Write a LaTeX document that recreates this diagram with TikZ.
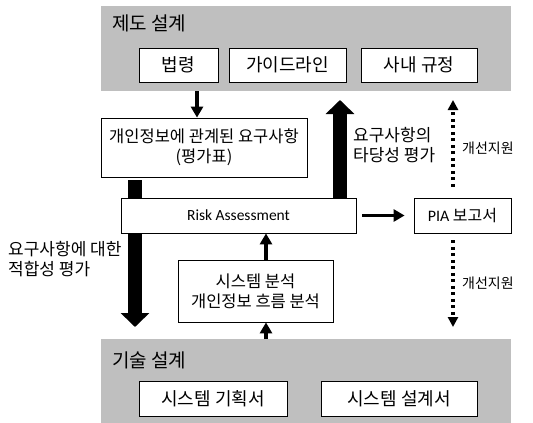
\documentclass[tikz,border=0pt]{standalone}
\usepackage{fontspec}
\setmainfont{Noto Sans CJK KR}
\newfontfamily\latinfont{Carlito}
\usepackage{tikz}
\usetikzlibrary{calc, positioning, arrows.meta}
\usepackage{xcolor}
\definecolor{panelGray}{RGB}{191, 191, 191}

\begin{document}
\begin{tikzpicture}[x=1pt, y=-1pt,
    panel/.style={fill=panelGray, draw=none, anchor=north west, inner sep=0pt},
    docbox/.style={draw, line width=0.8pt, fill=white, font=\fontsize{18}{20}\selectfont, inner sep=0pt},
    stepbox/.style={draw, line width=0.8pt, fill=white, align=center, font=\fontsize{16.5}{20}\selectfont, inner sep=0pt},
    thin arrow/.style={line width=3.5pt, -{Triangle[width=12pt, length=11pt]}},
    fat arrow/.style={line width=14pt, -{Triangle[width=28pt, length=14pt]}},
    dot arrow/.style={line width=3.5pt, dash pattern=on 3pt off 3.5pt, -{Triangle[width=10pt, length=10pt]}},
    note/.style={anchor=west, align=left, font=\fontsize{17}{20}\selectfont, inner sep=0pt}]
  \useasboundingbox (0,0) rectangle (533,423);

  % institutional design
  \node[panel, minimum width=410pt, minimum height=85pt] (inst) at (101,6) {};
  \node[anchor=west, font=\fontsize{19}{20}\selectfont, inner sep=0pt] (instTitle) at (112,23) {제도 설계};
  \node[docbox, minimum width=79pt, minimum height=34pt] (law) at (178.5,65) {법령};
  \node[docbox, minimum width=117pt, minimum height=34pt] (guide) at (287.5,65) {가이드라인};
  \node[docbox, minimum width=116pt, minimum height=34pt] (rule) at (419,65) {사내 규정};

  % technical design
  \node[panel, minimum width=410pt, minimum height=84pt] (tech) at (101,339) {};
  \node[anchor=west, font=\fontsize{19}{20}\selectfont, inner sep=0pt] (techTitle) at (112,360) {기술 설계};
  \node[docbox, minimum width=148pt, minimum height=35pt] (plan) at (213,398.5) {시스템 기획서};
  \node[docbox, minimum width=156pt, minimum height=35pt] (spec) at (399,398.5) {시스템 설계서};

  \coordinate (lawX) at (197,0);
  \coordinate (fitX) at (135,0);
  \coordinate (fitTip) at (135,327);
  \coordinate (validTip) at (340,100);
  \coordinate (flowX) at (266,0);
  \coordinate (supX) at (453,0);
  \coordinate (supTop) at (453,100);
  \coordinate (supBottom) at (453,327);

  \node[stepbox, minimum width=206pt, minimum height=59pt] (req) at (204,147.5)
    {개인정보에 관계된 요구사항\\(평가표)};
  \draw[thin arrow] (inst.south -| lawX) -- (req.north -| lawX);

  % goes behind the risk box
  \draw[fat arrow] ([yshift=-3pt]req.south -| fitX) -- (fitTip);
  \node[note, anchor=north west] (fitNote) at (8,241) {요구사항에 대한\\적합성 평가};

  \node[stepbox, minimum width=235pt, minimum height=35pt, font=\latinfont\fontsize{15.5}{18}\selectfont] (risk) at (238.5,215.5) {Risk Assessment};
  \node[stepbox, minimum width=97pt, minimum height=35pt, font=\fontsize{16}{18}\selectfont] (pia) at (462.5,215.5) {{\latinfont PIA} 보고서};
  \node[stepbox, minimum width=155pt, minimum height=62pt] (flow) at (255.5,291)
    {시스템 분석\\개인정보 흐름 분석};

  \draw[fat arrow] (risk.north -| validTip) -- (validTip);
  \node[note] (validNote) at (353,145) {요구사항의\\타당성 평가};

  \draw[thin arrow, shorten <=6pt, shorten >=9pt] (risk.east) -- (pia.west);
  \draw[thin arrow] (flow.north -| flowX) -- (risk.south -| flowX);
  \draw[thin arrow] (tech.north -| flowX) -- (flow.south -| flowX);

  \draw[dot arrow] ([yshift=11pt]pia.north -| supX) -- (supTop);
  \draw[dot arrow] ([yshift=-7pt]pia.south -| supX) -- (supBottom);
  \node[note, font=\fontsize{14}{16}\selectfont] (supNoteA) at (462,148) {개선지원};
  \node[note, font=\fontsize{14}{16}\selectfont] (supNoteB) at (462,283) {개선지원};
\end{tikzpicture}
\end{document}
